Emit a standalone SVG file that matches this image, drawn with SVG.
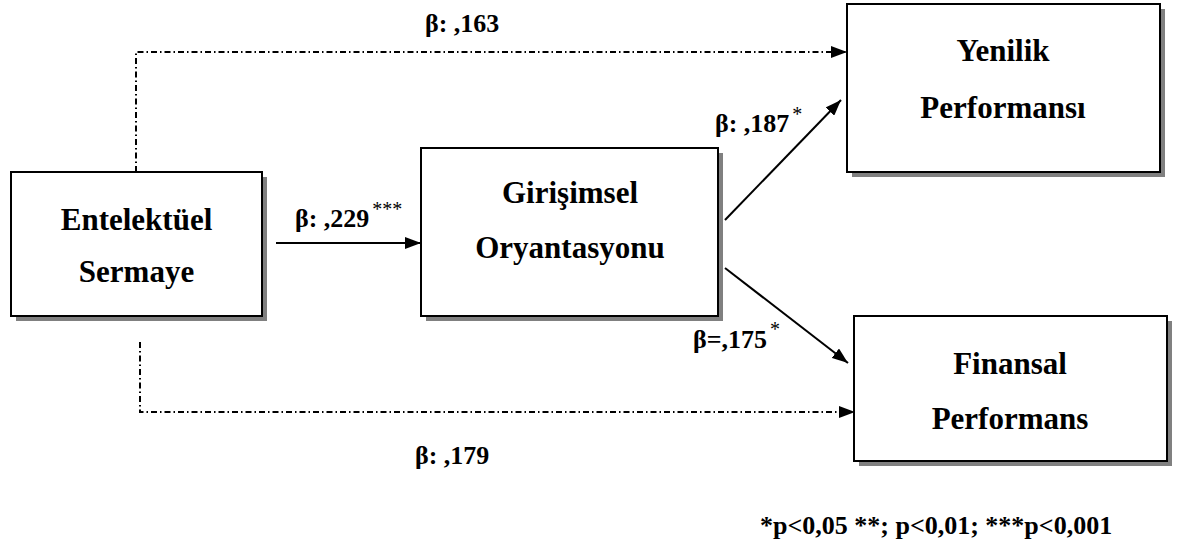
<svg xmlns="http://www.w3.org/2000/svg" width="1182" height="546" viewBox="0 0 1182 546">
<style>
.box{fill:#fff;stroke:#000;stroke-width:2}
.sh{fill:#808080}
.t{font-family:"Liberation Serif","Times New Roman",serif;font-weight:bold;fill:#000}
.nt{font-size:31px;text-anchor:middle}
.lb{font-size:26px}
.sup{font-size:20px;font-weight:normal}
.solid{stroke:#000;stroke-width:2;fill:none}
.dd{stroke:#000;stroke-width:2;fill:none;stroke-dasharray:6 3 1.5 3}
</style>
<defs>
<marker id="ah" viewBox="0 0 16 12" refX="16" refY="6" markerWidth="16" markerHeight="12" markerUnits="userSpaceOnUse" orient="auto">
<path d="M0,0 L16,6 L0,12 Z" fill="#000"/>
</marker>
</defs>
<rect width="1182" height="546" fill="#fff"/>
<g id="connectors">
<path class="dd" d="M136,172 V52 H847" marker-end="url(#ah)"/>
<path class="dd" d="M140,342 V412 H855" marker-end="url(#ah)"/>
<path class="solid" d="M276,243 H421" marker-end="url(#ah)"/>
<path class="solid" d="M725,220 L841,100" marker-end="url(#ah)"/>
<path class="solid" d="M725,268 L848,363" marker-end="url(#ah)"/>
</g>
<g id="node-entelektuel">
<rect class="sh" x="16" y="177" width="251" height="144"/>
<rect class="box" x="11" y="172" width="251" height="144"/>
<text class="t nt" x="136.5" y="230">Entelektüel</text>
<text class="t nt" x="136.5" y="282">Sermaye</text>
</g>
<g id="node-girisimsel">
<rect class="sh" x="426" y="153" width="297" height="168"/>
<rect class="box" x="421" y="148" width="297" height="168"/>
<text class="t nt" x="570" y="203">Girişimsel</text>
<text class="t nt" x="570" y="258">Oryantasyonu</text>
</g>
<g id="node-yenilik">
<rect class="sh" x="852" y="9" width="313" height="168"/>
<rect class="box" x="847" y="4" width="313" height="168"/>
<text class="t nt" x="1003" y="61">Yenilik</text>
<text class="t nt" x="1003" y="118">Performansı</text>
</g>
<g id="node-finansal">
<rect class="sh" x="859" y="321" width="313" height="145"/>
<rect class="box" x="854" y="316" width="313" height="145"/>
<text class="t nt" x="1010" y="374">Finansal</text>
<text class="t nt" x="1010" y="429">Performans</text>
</g>
<g id="labels">
<text class="t lb" x="425" y="32">β: ,163</text>
<text class="t lb" x="295" y="227">β: ,229<tspan class="sup" dx="3" dy="-11">***</tspan></text>
<text class="t lb" x="715" y="132">β: ,187<tspan class="sup" dx="3" dy="-11">*</tspan></text>
<text class="t lb" x="693" y="348">β=,175<tspan class="sup" dx="3" dy="-12">*</tspan></text>
<text class="t lb" x="415" y="464">β: ,179</text>
<text class="t" x="760" y="534" font-size="26">*p&lt;0,05 **; p&lt;0,01; ***p&lt;0,001</text>
</g>
</svg>
